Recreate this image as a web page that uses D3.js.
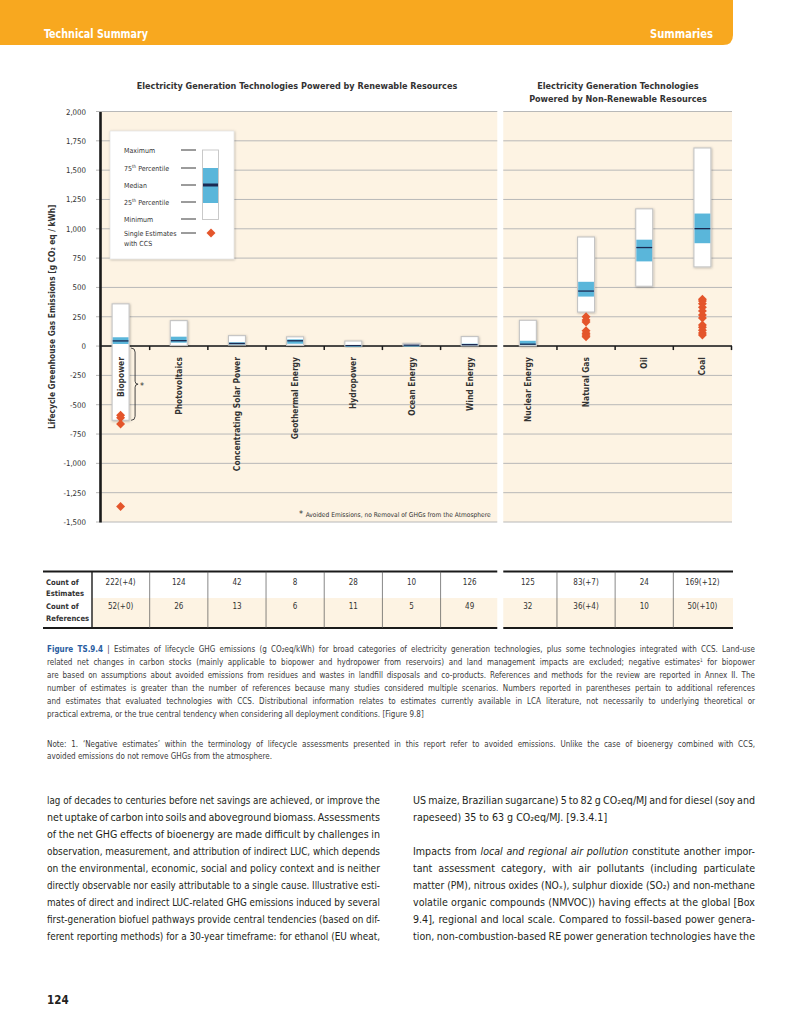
<!DOCTYPE html>
<html>
<head>
<meta charset="utf-8">
<script src="https://cdn.jsdelivr.net/npm/d3@7"></script>
<style>
body { margin: 0; background: #fff; }
svg { display: block; }
</style>
</head>
<body>
<svg id="page" width="800" height="1035"></svg>
<script>
// ---- data ----
const categories = ['Biopower', 'Photovoltaics', 'Concentrating Solar Power', 'Geothermal Energy',
    'Hydropower', 'Ocean Energy', 'Wind Energy', 'Nuclear Energy', 'Natural Gas', 'Oil', 'Coal'];
const mins    = [-633,   5,  9,  6,  0,  2,  2,   1, 290,  510,  675];
const p25s    = [  18,  29, 14, 20,  3,  6,  8,   8, 422,  722,  877];
const medians = [  44,  46, 22, 45,  4,  8, 12,  16, 469,  840, 1001];
const p75s    = [  75,  80, 32, 57,  7,  9, 20,  45, 548,  907, 1130];
const maxs    = [ 360, 217, 89, 79, 43, 23, 81, 220, 930, 1170, 1689];
const ccsBiopower   = [-590, -612, -665, -1368];
const ccsNaturalGas = [250, 222, 205, 130, 110, 95, 80];
const ccsCoal       = [400, 385, 360, 330, 300, 265, 240, 180, 160, 135, 112, 95];
const estimateCounts  = ['222(+4)', '124', '42', '8', '28', '10', '126', '125', '83(+7)', '24', '169(+12)'];
const referenceCounts = ['52(+0)', '26', '13', '6', '11', '5', '49', '32', '36(+4)', '10', '50(+10)'];
const yTicks = [-1500, -1250, -1000, -750, -500, -250, 0, 250, 500, 750, 1000, 1250, 1500, 1750, 2000];

const ccsByCategory = { 'Biopower': ccsBiopower, 'Natural Gas': ccsNaturalGas, 'Coal': ccsCoal };

const FONT = "'Liberation Sans Narrow','DejaVu Sans Condensed','Arial Narrow',sans-serif";
const ORANGE = '#f8a81f', CREAM = '#fdf3e3', BLUE = '#5ab6da', NAVY = '#1c2a52', RED = '#e4552b';

const boxes = categories.map((c, i) => ({
    name: c, min: mins[i], p25: p25s[i], med: medians[i], p75: p75s[i], max: maxs[i],
    ccs: ccsByCategory[c] || []
}));

const svg = d3.select('#page').style('font-family', FONT);

const defs = svg.append('defs');
const shadow = defs.append('filter').attr('id', 'shadow')
    .attr('x', '-30%').attr('y', '-30%').attr('width', '160%').attr('height', '160%');
shadow.append('feDropShadow').attr('dx', 0.6).attr('dy', 0.6).attr('stdDeviation', 1.1)
    .attr('flood-color', '#000').attr('flood-opacity', 0.28);

// ---- page header ----
svg.append('path').attr('d', 'M0,0 H733 V35 Q733,45 723,45 H0 Z').attr('fill', ORANGE);
svg.append('text').attr('x', 44).attr('y', 38).attr('fill', '#fff')
    .attr('font-size', 12).attr('font-weight', 700)
    .attr('textLength', 104).attr('lengthAdjust', 'spacingAndGlyphs').text('Technical Summary');
svg.append('text').attr('x', 650).attr('y', 38).attr('fill', '#fff')
    .attr('font-size', 12).attr('font-weight', 700)
    .attr('textLength', 63).attr('lengthAdjust', 'spacingAndGlyphs').text('Summaries');

// ---- scales ----
const x = d3.scaleBand().domain(categories).range([91.5, 731.5]);
const y = d3.scaleLinear().domain([-1500, 2000]).range([522, 111.5]);
const bw = 17;
const split = x('Nuclear Energy') + 1.5;
const panels = [[100, split - 3], [split + 3, 732]];

const chart = svg.append('g');

panels.forEach(p => {
    chart.append('rect').attr('x', p[0]).attr('y', y(2000)).attr('width', p[1] - p[0])
        .attr('height', y(-1500) - y(2000)).attr('fill', CREAM);
    chart.append('g').selectAll('line').data(yTicks).join('line')
        .attr('x1', p[0] === 100 ? 96 : p[0]).attr('x2', p[1])
        .attr('y1', d => y(d)).attr('y2', d => y(d))
        .attr('stroke', '#b8b8b8').attr('stroke-width', 1);
    chart.append('line').attr('x1', p[0]).attr('x2', p[1]).attr('y1', y(0)).attr('y2', y(0))
        .attr('stroke', '#1a1a1a').attr('stroke-width', 1.6);
});

// y axis
const fmt = d3.format(',');
const yAxis = chart.append('g').attr('transform', 'translate(100,0)')
    .call(d3.axisLeft(y).tickValues(yTicks).tickSize(0).tickPadding(14)
        .tickFormat(d => fmt(d).replace('\u2212', '-')));
yAxis.select('.domain').attr('stroke', '#1a1a1a').attr('stroke-width', 2.6);
yAxis.selectAll('text').attr('font-family', FONT).attr('font-size', 7.8).attr('fill', '#333');

chart.append('text')
    .attr('transform', `translate(55,${y(250)}) rotate(-90)`)
    .attr('text-anchor', 'middle').attr('font-size', 8.3).attr('font-weight', 700).attr('fill', '#333')
    .text('Lifecycle Greenhouse Gas Emissions [g CO\u2082 eq / kWh]');

// x ticks at band boundaries (not at the panel split)
const boundaries = categories.slice(1).map(c => x(c)).filter(v => Math.abs(v + 1.5 - split) > 1)
    .concat([x.range()[1]]);
chart.append('g').selectAll('line').data(boundaries).join('line')
    .attr('x1', d => d).attr('x2', d => d).attr('y1', y(0)).attr('y2', y(0) + 4)
    .attr('stroke', '#1a1a1a').attr('stroke-width', 1.5);

// titles
chart.append('text').attr('x', 297).attr('y', 89).attr('text-anchor', 'middle')
    .attr('font-size', 9).attr('font-weight', 700).attr('fill', '#333')
    .text('Electricity Generation Technologies Powered by Renewable Resources');
const t2 = chart.append('text').attr('x', 618).attr('y', 89).attr('text-anchor', 'middle')
    .attr('font-size', 9).attr('font-weight', 700).attr('fill', '#333');
t2.append('tspan').attr('x', 618).text('Electricity Generation Technologies');
t2.append('tspan').attr('x', 618).attr('dy', 13).text('Powered by Non-Renewable Resources');

// ---- boxes ----
const bx = d => x(d.name) + x.bandwidth() / 2;
const g = chart.append('g').selectAll('g').data(boxes).join('g');
g.append('rect')
    .attr('x', d => bx(d) - bw / 2).attr('width', bw)
    .attr('y', d => y(d.max)).attr('height', d => Math.max(2, y(d.min) - y(d.max)))
    .attr('fill', '#fff').attr('stroke', '#c4c4c4').attr('stroke-width', 1.1)
    .attr('filter', 'url(#shadow)');
g.append('rect')
    .attr('x', d => bx(d) - bw / 2 + 0.6).attr('width', bw - 1.2)
    .attr('y', d => y(d.p75)).attr('height', d => Math.max(1.5, y(d.p25) - y(d.p75)))
    .attr('fill', BLUE);
g.append('line')
    .attr('x1', d => bx(d) - bw / 2 + 0.6).attr('x2', d => bx(d) + bw / 2 - 0.6)
    .attr('y1', d => y(d.med)).attr('y2', d => y(d.med))
    .attr('stroke', NAVY).attr('stroke-width', 1.3);

// CCS single estimates
const diamond = d3.symbol().type(d3.symbolSquare).size(40);
g.selectAll('path.ccs').data(d => d.ccs.map(v => ({ v, d }))).join('path')
    .attr('class', 'ccs').attr('d', diamond)
    .attr('transform', e => `translate(${bx(e.d)},${y(e.v)}) rotate(45)`)
    .attr('fill', RED);

// category labels
chart.append('g').selectAll('text').data(categories).join('text')
    .attr('transform', c => `translate(${x(c) + x.bandwidth() / 2 + 3},${y(0) + 11}) rotate(-90)`)
    .attr('text-anchor', 'end').attr('font-size', 8.4).attr('font-weight', 700).attr('fill', '#333')
    .text(c => c);

// bracket for biopower avoided emissions
const bb = boxes[0];
const bxr = bx(bb) + bw / 2 + 2;
const yb0 = y(0) + 2, yb1 = y(bb.min), ym = (yb0 + yb1) / 2;
chart.append('path')
    .attr('d', `M${bxr},${yb0} Q${bxr + 4},${yb0} ${bxr + 4},${yb0 + 4} V${ym - 3} Q${bxr + 4},${ym} ${bxr + 7},${ym}
        Q${bxr + 4},${ym} ${bxr + 4},${ym + 3} V${yb1 - 4} Q${bxr + 4},${yb1} ${bxr},${yb1}`)
    .attr('fill', 'none').attr('stroke', '#333').attr('stroke-width', 0.9);
chart.append('text').attr('x', bxr + 9).attr('y', ym + 5).attr('font-size', 9).attr('fill', '#333').text('*');

chart.append('text').attr('x', 299).attr('y', 517).attr('font-size', 6.6).attr('fill', '#333')
    .call(t => {
        t.append('tspan').attr('font-size', 9).text('* ');
        t.append('tspan').text('Avoided Emissions, no Removal of GHGs from the Atmosphere');
    });

// ---- legend ----
const lg = chart.append('g');
lg.append('rect').attr('x', 110).attr('y', 131).attr('width', 124).attr('height', 128)
    .attr('fill', '#fff').attr('stroke', '#ddd').attr('stroke-width', 0.6).attr('filter', 'url(#shadow)');
const legendRows = [
    { label: 'Maximum', y: 150 }, { label: '75|th| Percentile', y: 168 }, { label: 'Median', y: 185 },
    { label: '25|th| Percentile', y: 202 }, { label: 'Minimum', y: 219 }, { label: 'Single Estimates', y: 233 }];
legendRows.forEach(r => {
    const t = lg.append('text').attr('x', 124).attr('y', r.y + 2.5).attr('font-size', 7).attr('fill', '#333');
    const parts = r.label.split('|');
    t.append('tspan').text(parts[0]);
    if (parts.length > 1) {
        t.append('tspan').attr('font-size', 4.5).attr('dy', -3).text(parts[1]);
        t.append('tspan').attr('dy', 3).text(parts[2]);
    }
    lg.append('line').attr('x1', 181).attr('x2', 196).attr('y1', r.y).attr('y2', r.y)
        .attr('stroke', '#222').attr('stroke-width', 0.9);
});
lg.append('text').attr('x', 124).attr('y', 245.5).attr('font-size', 7).attr('fill', '#333').text('with CCS');
lg.append('rect').attr('x', 202.5).attr('y', 150).attr('width', 16).attr('height', 69.5)
    .attr('fill', '#fff').attr('stroke', '#c4c4c4').attr('stroke-width', 0.9);
lg.append('rect').attr('x', 203).attr('y', 168).attr('width', 15).attr('height', 35).attr('fill', BLUE);
lg.append('line').attr('x1', 203).attr('x2', 218).attr('y1', 185).attr('y2', 185)
    .attr('stroke', NAVY).attr('stroke-width', 3);
lg.append('path').attr('d', diamond).attr('transform', 'translate(211,233) rotate(45)').attr('fill', RED);

// ---- counts table ----
const tb = svg.append('g');
const tTop = 571.5, tMid = 598, tBot = 628;
const colL = categories.map(c => x(c));
tb.append('rect').attr('x', 92).attr('y', tMid).attr('width', split - 3 - 92).attr('height', tBot - tMid).attr('fill', CREAM);
tb.append('rect').attr('x', split + 3).attr('y', tMid).attr('width', 733 - split - 3).attr('height', tBot - tMid).attr('fill', CREAM);
[[43, split - 3], [split + 3, 733]].forEach(p => {
    [tTop, tBot].forEach(v => tb.append('line').attr('x1', p[0]).attr('x2', p[1]).attr('y1', v).attr('y2', v)
        .attr('stroke', '#1a1a1a').attr('stroke-width', 2));
});
tb.append('line').attr('x1', 92).attr('x2', 92).attr('y1', tTop).attr('y2', tBot).attr('stroke', '#1a1a1a').attr('stroke-width', 1.4);
tb.selectAll('line.col').data(boundaries.filter(v => v < 731)).join('line').attr('class', 'col')
    .attr('x1', d => d).attr('x2', d => d).attr('y1', tTop).attr('y2', tBot)
    .attr('stroke', '#555').attr('stroke-width', 0.7);
[['Count of', 'Estimates', tTop + 13], ['Count of', 'References', tMid + 11]].forEach(r => {
    const t = tb.append('text').attr('x', 46).attr('y', r[2]).attr('font-size', 7.6).attr('font-weight', 700).attr('fill', '#333');
    t.append('tspan').attr('x', 46).text(r[0]);
    t.append('tspan').attr('x', 46).attr('dy', 11.5).text(r[1]);
});
tb.selectAll('text.est').data(estimateCounts).join('text').attr('class', 'est')
    .attr('x', (d, i) => colL[i] + x.bandwidth() / 2).attr('y', tTop + 13)
    .attr('text-anchor', 'middle').attr('font-size', 8).attr('fill', '#333').text(d => d);
tb.selectAll('text.ref').data(referenceCounts).join('text').attr('class', 'ref')
    .attr('x', (d, i) => colL[i] + x.bandwidth() / 2).attr('y', tMid + 11)
    .attr('text-anchor', 'middle').attr('font-size', 8).attr('fill', '#333').text(d => d);

// ---- caption and body text ----
function richLine(parent, str, x0, y0, width, justify, size, color) {
    const t = parent.append('text').attr('x', x0).attr('y', y0).attr('font-size', size).attr('fill', color);
    let pendingDy = 0;
    const add = () => {
        const s = t.append('tspan');
        if (pendingDy) { s.attr('dy', pendingDy); pendingDy = 0; }
        return s;
    };
    str.split(/(\{[a-z]+:[^}]*\})/).filter(s => s.length).forEach(s => {
        const m = s.match(/^\{([a-z]+):([^}]*)\}$/);
        if (!m) { add().text(s); return; }
        if (m[1] === 'sup') {
            add().attr('font-size', size * 0.6).attr('dy', -size * 0.35).text(m[2]);
            pendingDy = size * 0.35;
        } else if (m[1] === 'i') {
            add().attr('font-style', 'italic').text(m[2]);
        } else if (m[1] === 'fig') {
            add().attr('font-weight', 700).attr('fill', '#2a5d9f').text(m[2]);
        }
    });
    if (justify) {
        const natural = t.node().getComputedTextLength();
        const spaces = (t.text().match(/ /g) || []).length;
        const ws = spaces ? (width - natural) / spaces : 0;
        if (ws > -1.2) t.attr('word-spacing', ws);
        else t.attr('textLength', width).attr('lengthAdjust', 'spacingAndGlyphs');
    }
    return t;
}

const captionLines = [
    ['{fig:Figure TS.9.4} | Estimates of lifecycle GHG emissions (g CO\u2082eq/kWh) for broad categories of electricity generation technologies, plus some technologies integrated with CCS. Land-use', true],
    ['related net changes in carbon stocks (mainly applicable to biopower and hydropower from reservoirs) and land management impacts are excluded; negative estimates{sup:1} for biopower', true],
    ['are based on assumptions about avoided emissions from residues and wastes in landfill disposals and co-products. References and methods for the review are reported in Annex II. The', true],
    ['number of estimates is greater than the number of references because many studies considered multiple scenarios. Numbers reported in parentheses pertain to additional references', true],
    ['and estimates that evaluated technologies with CCS. Distributional information relates to estimates currently available in LCA literature, not necessarily to underlying theoretical or', true],
    ['practical extrema, or the true central tendency when considering all deployment conditions. [Figure 9.8]', false]
];
const noteLines = [
    ["Note: 1. \u2018Negative estimates\u2019 within the terminology of lifecycle assessments presented in this report refer to avoided emissions. Unlike the case of bioenergy combined with CCS,", true],
    ['avoided emissions do not remove GHGs from the atmosphere.', false]
];
const cap = svg.append('g');
captionLines.forEach((l, i) => richLine(cap, l[0], 47, 652 + i * 12.9, 708, l[1], 8, '#3b3b3b'));
noteLines.forEach((l, i) => richLine(cap, l[0], 47, 746.5 + i * 12.9, 708, l[1], 8, '#3b3b3b'));

const leftBody = [
    'lag of decades to centuries before net savings are achieved, or improve the',
    'net uptake of carbon into soils and aboveground biomass. Assessments',
    'of the net GHG effects of bioenergy are made difficult by challenges in',
    'observation, measurement, and attribution of indirect LUC, which depends',
    'on the environmental, economic, social and policy context and is neither',
    'directly observable nor easily attributable to a single cause. Illustrative esti-',
    'mates of direct and indirect LUC-related GHG emissions induced by several',
    'first-generation biofuel pathways provide central tendencies (based on dif-',
    'ferent reporting methods) for a 30-year timeframe: for ethanol (EU wheat,'
];
const rightBody = [
    ['US maize, Brazilian sugarcane) 5 to 82 g CO\u2082eq/MJ and for diesel (soy and', true, 0],
    ['rapeseed) 35 to 63 g CO\u2082eq/MJ. [9.3.4.1]', false, 1],
    ['Impacts from {i:local and regional air pollution} constitute another impor-', true, 3],
    ['tant assessment category, with air pollutants (including particulate', true, 4],
    ['matter (PM), nitrous oxides (NO\u2093), sulphur dioxide (SO\u2082) and non-methane', true, 5],
    ['volatile organic compounds (NMVOC)) having effects at the global [Box', true, 6],
    ['9.4], regional and local scale. Compared to fossil-based power genera-', true, 7],
    ['tion, non-combustion-based RE power generation technologies have the', true, 8]
];
const body = svg.append('g');
leftBody.forEach((l, i) => richLine(body, l, 47, 804 + i * 17, 333, true, 10.6, '#231f20'));
rightBody.forEach(l => richLine(body, l[0], 413, 804 + l[2] * 17, 342, l[1], 10.6, '#231f20'));

svg.append('text').attr('x', 47).attr('y', 1004).attr('font-size', 11.5).attr('font-weight', 700)
    .attr('fill', '#231f20').text('124');
</script>
</body>
</html>
